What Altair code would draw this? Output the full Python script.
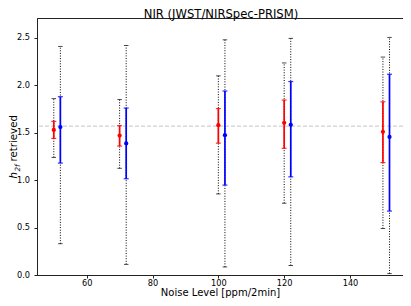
import altair as alt
import pandas as pd

# ---- data ----
series = ["red", "blue"]
noise_red = [50, 70, 100, 120, 150]
noise_blue = [52, 72, 102, 122, 152]

red_med = [1.53, 1.47, 1.58, 1.605, 1.51]
red_lo1 = [1.44, 1.36, 1.39, 1.336, 1.185]
red_hi1 = [1.62, 1.575, 1.755, 1.845, 1.826]
red_lo2 = [1.24, 1.125, 0.855, 0.757, 0.49]
red_hi2 = [1.86, 1.85, 2.10, 2.236, 2.298]

blue_med = [1.56, 1.387, 1.474, 1.584, 1.456]
blue_lo1 = [1.18, 1.015, 0.948, 1.035, 0.674]
blue_hi1 = [1.88, 1.76, 1.94, 2.04, 2.117]
blue_lo2 = [0.33, 0.112, 0.085, 0.10, 0.015]
blue_hi2 = [2.41, 2.42, 2.48, 2.495, 2.505]

true_value = [1.57]
x_ticks = [60, 80, 100, 120, 140]
y_ticks = [0.0, 0.5, 1.0, 1.5, 2.0, 2.5]
title_text = "NIR (JWST/NIRSpec-PRISM)"

rows = []
for name, xs, med, lo1, hi1, lo2, hi2 in [
    ("red", noise_red, red_med, red_lo1, red_hi1, red_lo2, red_hi2),
    ("blue", noise_blue, blue_med, blue_lo1, blue_hi1, blue_lo2, blue_hi2),
]:
    for i in range(len(xs)):
        rows.append(dict(series=name, noise=xs[i], med=med[i], lo1=lo1[i],
                         hi1=hi1[i], lo2=lo2[i], hi2=hi2[i]))
df = pd.DataFrame(rows)
ref_df = pd.DataFrame({"val": true_value})

FONT = "DejaVu Sans"
W, H = 366, 257
xscale = alt.Scale(domain=[44.9, 156.1], nice=False, zero=False)
yscale = alt.Scale(domain=[0, 2.71], nice=False, zero=False)
color = alt.Color("series:N", scale=alt.Scale(domain=series, range=["#ff0000", "#0000ff"]), legend=None)

X = alt.X("noise:Q", scale=xscale,
          axis=alt.Axis(values=x_ticks, title="Noise Level [ppm/2min]", format="d"))
Y = alt.Y("med:Q", scale=yscale,
          axis=alt.Axis(values=y_ticks, title=None, format=".1f"))

base = alt.Chart(df)

ref_line = alt.Chart(ref_df).mark_rule(color="#c4c4c4", strokeDash=[4, 2], strokeWidth=1).encode(
    y=alt.Y("val:Q", scale=yscale))

dotted = base.mark_rule(color="black", strokeDash=[1, 1.6], strokeWidth=1).encode(
    x=X, y=alt.Y("lo2:Q", scale=yscale, axis=alt.Axis(values=y_ticks, title=None, format=".1f")), y2="hi2:Q")
dotted_cap_lo = base.mark_tick(color="black", orient="horizontal", size=4.5, thickness=1).encode(
    x=X, y=alt.Y("lo2:Q", scale=yscale))
dotted_cap_hi = base.mark_tick(color="black", orient="horizontal", size=4.5, thickness=1).encode(
    x=X, y=alt.Y("hi2:Q", scale=yscale))

solid = base.mark_rule(strokeWidth=1.7).encode(
    x=X, y=alt.Y("lo1:Q", scale=yscale), y2="hi1:Q", color=color)
solid_cap_lo = base.mark_tick(orient="horizontal", size=5, thickness=1.2, opacity=0.8).encode(
    x=X, y=alt.Y("lo1:Q", scale=yscale), color=color)
solid_cap_hi = base.mark_tick(orient="horizontal", size=5, thickness=1.2, opacity=0.8).encode(
    x=X, y=alt.Y("hi1:Q", scale=yscale), color=color)

points = base.mark_circle(size=18, opacity=1).encode(x=X, y=Y, color=color)

# chart title as a text mark
title_mark = alt.Chart(ref_df).mark_text(text=title_text, font=FONT, fontSize=11.6,
                                         align="center", baseline="alphabetic", color="black").encode(
    x=alt.value(184), y=alt.value(-0.4))

# y-axis title with italic h and subscript 2f
lab_h = alt.Chart(ref_df).mark_text(text="h", font=FONT, fontSize=10.2, fontStyle="italic",
                                    angle=270, align="left", baseline="alphabetic", color="black").encode(
    x=alt.value(-19.6), y=alt.value(160.5))
lab_sub = alt.Chart(ref_df).mark_text(text="2f", font=FONT, fontSize=7.2, fontStyle="italic",
                                      angle=270, align="left", baseline="alphabetic", color="black").encode(
    x=alt.value(-17.3), y=alt.value(153.6))
lab_rest = alt.Chart(ref_df).mark_text(text="retrieved", font=FONT, fontSize=10.2,
                                       angle=270, align="left", baseline="alphabetic", color="black").encode(
    x=alt.value(-19.6), y=alt.value(143.4))

chart = alt.layer(
    ref_line, dotted, dotted_cap_lo, dotted_cap_hi, solid, solid_cap_lo, solid_cap_hi, points,
    title_mark, lab_h, lab_sub, lab_rest,
).properties(
    width=W, height=H,
    autosize=alt.AutoSizeParams(type="none"),
    padding={"left": 29, "top": 10, "right": 0, "bottom": 23},
).configure_view(
    stroke="#222222", strokeWidth=1
).configure_axis(
    grid=False, labelFont=FONT, labelFontSize=8.2, labelColor="black",
    titleFont=FONT, titleFontSize=10, titleFontWeight="normal", titleColor="black",
    tickColor="#222222", tickSize=3, tickWidth=1, domainColor="#222222", domainWidth=1,
    labelPadding=3,
).configure_axisX(titlePadding=0.9, labelPadding=1.7).configure_axisY(labelPadding=4.5)

chart.save("out.html", embed_options={"renderer": "svg", "actions": False})
